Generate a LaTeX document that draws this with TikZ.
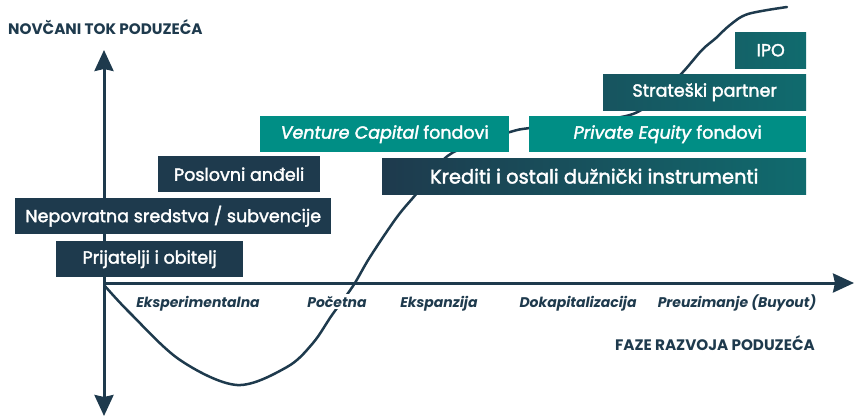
\documentclass[tikz,border=0pt]{standalone}
\usepackage{fontspec}
\setmainfont{Poppins}
\newfontfamily\boxfont{Poppins}[FakeBold=2]
\usetikzlibrary{arrows.meta}

\definecolor{ink}{RGB}{30,58,77}
\definecolor{vcteal}{RGB}{0,142,133}
% navy-to-teal ramp used by the debt / strategic / IPO boxes
\definecolor{rampA}{RGB}{30,58,77}
\definecolor{rampB}{RGB}{23,84,95}
\definecolor{rampC}{RGB}{20,98,104}
\definecolor{rampD}{RGB}{16,107,110}

\tikzset{axistip/.tip={Stealth[length=21pt,width=19pt,inset=2pt]}}

\begin{document}
\begin{tikzpicture}[x=1pt,y=-1pt,
  box/.style={anchor=north west, minimum height=36pt, inner sep=0pt,
    text=white, font=\boxfont\fontsize{17.5}{20}\selectfont},
  navybox/.style={box, fill=ink},
  tealbox/.style={box, fill=vcteal},
  phase/.style={anchor=base, fill=white, inner sep=1.5pt, text=ink,
    font=\fontsize{14}{16}\selectfont\bfseries\itshape},
  heading/.style={text=ink, inner sep=0pt, font=\fontsize{15.2}{17}\selectfont\bfseries},
  axis/.style={draw=ink, line width=3pt}
]
\useasboundingbox (0,0) rectangle (856,417);

% cash-flow curve (J-curve)
\draw[ink, line width=2.5pt, line cap=round]
  plot[smooth, tension=0.55] coordinates {
    (104,285) (130,313) (180,360) (237,385) (287,367) (313,343) (332,315)
    (353,286) (370,257) (397,217) (417,193) (443,160) (465,147) (510,132)
    (530,128) (585,122) (633,114) (660,95) (683,72) (702,50) (716,38)
    (730,25) (748,14) (787,7)};

% axes
\coordinate (origin) at (104,283);
\coordinate (ytop) at (104,50);
\coordinate (ybot) at (104,416);
\coordinate (xend) at (854,283);
\draw[axis, arrows={-axistip}] (origin) -- (xend);
\draw[axis, arrows={axistip-axistip}] (ybot) -- (ytop);

% sources of finance
\node[navybox, minimum width=187pt] (friends) at (56,241) {Prijatelji i obitelj};
\node[navybox, minimum width=316pt] (grants) at (15,198) {Nepovratna sredstva / subvencije};
\node[navybox, minimum width=162pt] (angels) at (158,156) {Poslovni anđeli};
\node[tealbox, minimum width=249pt] (vc) at (260,116) {\textit{Venture Capital} fondovi};
\node[box, minimum width=424pt, left color=rampA, right color=rampD,
  font=\boxfont\fontsize{19.5}{22}\selectfont] (loans) at (382,158)
  {Krediti i ostali dužnički instrumenti};
\node[tealbox, minimum width=277pt] (pe) at (529,116) {\textit{Private Equity} fondovi};
\node[box, minimum width=203pt, left color=rampB, right color=rampD] (partner) at (603,74)
  {Strateški partner};
\node[box, minimum width=71pt, left color=rampC, right color=rampD] (ipo) at (735,32) {IPO};

% development phases
\node[phase] (p1) at (198,307) {Eksperimentalna};
\node[phase] (p2) at (337,307) {Početna};
\node[phase] (p3) at (439,307) {Ekspanzija};
\node[phase] (p4) at (578,307) {Dokapitalizacija};
\node[phase] (p5) at (737,307) {Preuzimanje (Buyout)};

% axis titles
\node[heading, anchor=base west] (ytitle) at (8,35) {NOVČANI TOK PODUZEĆA};
\node[heading, anchor=base east] (xtitle) at (815,350) {FAZE RAZVOJA PODUZEĆA};
\end{tikzpicture}
\end{document}
